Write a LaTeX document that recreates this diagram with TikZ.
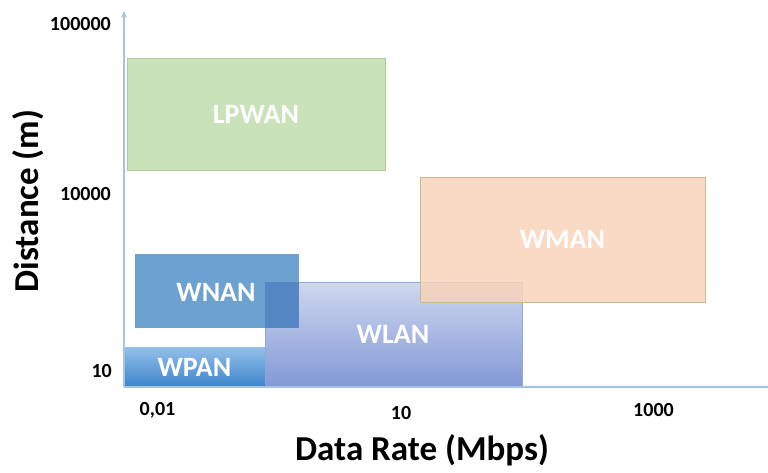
\documentclass[tikz,border=0pt]{standalone}
\usepackage{fontspec}
\setmainfont{Carlito}
\usetikzlibrary{arrows.meta}
\definecolor{axisblue}{HTML}{A3C4E3}
\definecolor{lpfill}{HTML}{C9E2B9}
\definecolor{lpdraw}{HTML}{AFCB9C}
\definecolor{wmfill}{HTML}{F8D3BA}
\definecolor{wmdraw}{HTML}{CDB98D}
\definecolor{wnfill}{HTML}{6DA1D0}
\definecolor{wnover}{HTML}{5487C4}
\definecolor{wltop}{HTML}{CFD7EF}
\definecolor{wlbot}{HTML}{8299D6}
\definecolor{wldraw}{HTML}{90A8D8}
\definecolor{wptop}{HTML}{93C0EA}
\definecolor{wpbot}{HTML}{3D84CB}
\tikzset{
  x=1pt, y=-1pt,
  axisline/.style={draw=axisblue, line width=1.2pt},
  netbox/.style={rectangle, inner sep=0pt, text=white,
    font=\fontsize{28}{28}\selectfont\bfseries},
  ticklab/.style={inner sep=0pt, text=black, font=\fontsize{20}{20}\selectfont\bfseries},
  axtitle/.style={inner sep=0pt, text=black, font=\fontsize{35}{35}\selectfont\bfseries}
}
\begin{document}
\begin{tikzpicture}
\useasboundingbox (0,0) rectangle (768,473);
% axes
\coordinate (O) at (124,387);
\coordinate (Xend) at (768,387);
\coordinate (Ytip) at (124,11);
% boxes
\node[netbox, fill=lpfill, draw=lpdraw, line width=0.8pt,
  minimum width=258pt, minimum height=112pt] (lpwan) at (256,114) {LPWAN};
\node[netbox, top color=wltop, bottom color=wlbot, draw=wldraw, line width=0.6pt,
  minimum width=257pt, minimum height=105pt] (wlan) at (393.5,334.5) {};
\node[netbox, fill=wnfill,
  minimum width=164pt, minimum height=74pt] (wnan) at (217,291) {};
\node[rectangle, inner sep=0pt, fill=wnover, minimum width=34pt, minimum height=46pt]
  (ovl) at (282,305) {};
\node[netbox] (wnanlab) at (216,292) {WNAN};
\node[netbox] (wlanlab) at (393,334) {WLAN};
\node[netbox, fill=wmfill, fill opacity=0.85, text opacity=1, draw=wmdraw, line width=0.8pt,
  minimum width=285pt, minimum height=125pt] (wman) at (562.5,239.5) {WMAN};
\node[netbox, top color=wptop, bottom color=wpbot,
  minimum width=141pt, minimum height=40pt] (wpan) at (194.5,367) {WPAN};
\draw[axisline] (O) -- (Xend);
\draw[axisline, -{Stealth[length=7pt,width=6pt]}] (O) -- (Ytip);
% tick labels
\node[ticklab, anchor=east] (y5) at (111,24) {100000};
\node[ticklab, anchor=east] (y4) at (111,194) {10000};
\node[ticklab, anchor=east] (y1) at (112,371) {10};
\node[ticklab] (x1) at (157.5,410) {0,01};
\node[ticklab] (x2) at (401,413) {10};
\node[ticklab] (x3) at (653.5,410) {1000};
% titles
\node[axtitle] (xt) at (422,450) {Data Rate (Mbps)};
\node[axtitle, rotate=90] (yt) at (28.5,201) {Distance (m)};
\end{tikzpicture}
\end{document}
